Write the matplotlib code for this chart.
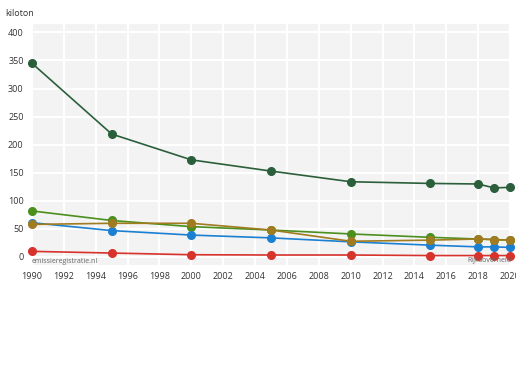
import matplotlib
matplotlib.use("Agg")
import matplotlib.pyplot as plt

plt.rcParams['font.family'] = ['Open Sans', 'DejaVu Sans']

years = [1990, 1995, 2000, 2005, 2010, 2015, 2018, 2019, 2020]
dark_green = [345, 219, 173, 153, 134, 131, 130, 123, 124]
light_green = [82, 65, 54, 48, 41, 35, 32, 31, 30]
brown = [58, 60, 60, 48, 28, 30, 32, 31, 30]
blue = [61, 47, 39, 34, 27, 21, 18, 18, 17]
red = [10, 7, 4, 3.5, 3.5, 2.5, 2.5, 2.5, 2.5]

series = [
    (dark_green, '#2b5f3b'),
    (light_green, '#4b8f1d'),
    (blue, '#1b80d1'),
    (brown, '#a07b1f'),
    (red, '#d7322b'),
]

yticks = [0, 50, 100, 150, 200, 250, 300, 350, 400]
xticks = list(range(1990, 2021, 2))

fig = plt.figure(figsize=(5.16, 3.8), dpi=100)
ax = fig.add_axes([32/516, 1 - 265/380, (510 - 32)/516, (265 - 24)/380])
ax.set_facecolor('#f3f3f3')

for vals, col in series:
    ax.plot(years, vals, color=col, lw=1.2, marker='o', ms=5.5,
            clip_on=False, zorder=3)

ax.set_xlim(1990, 2020)
ax.set_ylim(-14.3, 415)
ax.set_yticks(yticks)
ax.set_xticks(xticks)
ax.grid(True, color='white', lw=1.5)
ax.set_axisbelow(True)
for s in ax.spines.values():
    s.set_visible(False)
ax.tick_params(length=0, labelsize=6.5, colors='#333333')
ax.tick_params(axis='y', pad=6)
ax.tick_params(axis='x', pad=5)

fig.text(5/516, 1 - 13/380, 'kiloton', fontsize=6.5, color='#333333', va='center', ha='left')
ax.text(0.0, 3.5/241, 'emissieregistratie.nl', transform=ax.transAxes,
        fontsize=5, color='#666666', ha='left', va='center', zorder=4)
ax.text(1.003, 4.3/241, 'Rijksoverheid', transform=ax.transAxes,
        fontsize=5, color='#666666', ha='right', va='center', zorder=4)

fig.savefig('out.png', dpi=100)
